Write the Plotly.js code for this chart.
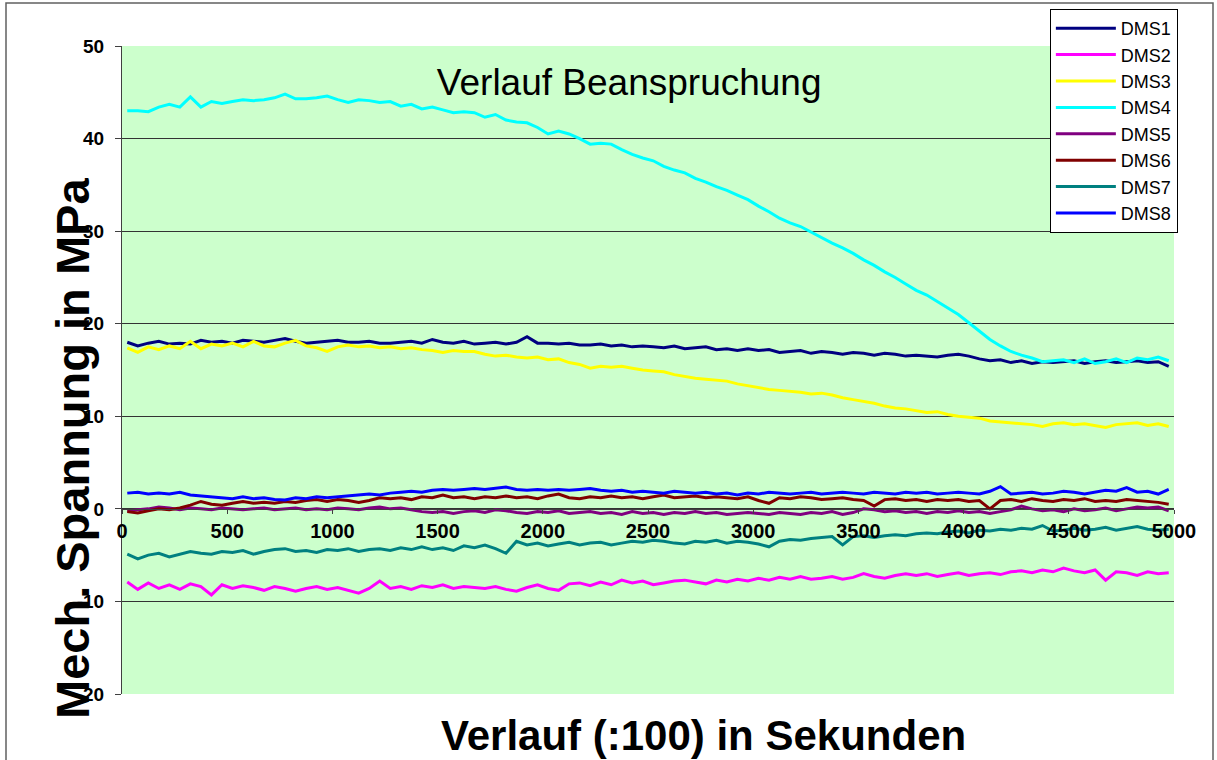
<!DOCTYPE html>
<html>
<head>
<meta charset="utf-8">
<script src="https://cdn.plot.ly/plotly-3.0.1.min.js"></script>
<style>
html,body{margin:0;padding:0;background:#fff;}
#chart{width:1217px;height:760px;}
</style>
</head>
<body>
<div id="chart"></div>
<script>
const zeit = [25,75,125,175,225,275,325,375,425,475,525,575,625,675,725,775,825,875,925,975,
1025,1075,1125,1175,1225,1275,1325,1375,1425,1475,1525,1575,1625,1675,1725,1775,1825,1875,1925,1975,
2025,2075,2125,2175,2225,2275,2325,2375,2425,2475,2525,2575,2625,2675,2725,2775,2825,2875,2925,2975,
3025,3075,3125,3175,3225,3275,3325,3375,3425,3475,3525,3575,3625,3675,3725,3775,3825,3875,3925,3975,
4025,4075,4125,4175,4225,4275,4325,4375,4425,4475,4525,4575,4625,4675,4725,4775,4825,4875,4925,4975];

const dms1 = [18.0,17.6,17.9,18.1,17.8,17.9,17.8,18.2,18.0,18.1,17.9,18.2,18.1,18.0,18.2,18.4,18.1,17.9,18.0,18.1,
18.2,18.0,18.0,18.1,17.9,17.9,18.0,18.1,17.9,18.3,18.0,17.9,18.1,17.8,17.9,18.0,17.8,18.0,18.6,17.9,
17.9,17.8,17.9,17.7,17.7,17.8,17.6,17.7,17.5,17.6,17.5,17.4,17.6,17.3,17.4,17.5,17.2,17.3,17.1,17.3,
17.1,17.2,16.9,17.0,17.1,16.8,17.0,16.9,16.7,16.9,16.8,16.6,16.8,16.7,16.5,16.6,16.5,16.4,16.6,16.7,
16.5,16.2,16.0,16.1,15.8,16.0,15.7,15.9,15.8,15.9,16.0,15.7,15.9,16.0,15.8,15.9,16.0,15.8,15.9,15.4];

const dms2 = [-7.9,-8.7,-8.0,-8.6,-8.2,-8.7,-8.1,-8.4,-9.3,-8.2,-8.6,-8.3,-8.5,-8.8,-8.4,-8.6,-8.9,-8.6,-8.4,-8.7,
-8.5,-8.8,-9.1,-8.6,-7.8,-8.6,-8.4,-8.7,-8.3,-8.5,-8.2,-8.6,-8.4,-8.5,-8.6,-8.4,-8.7,-8.9,-8.5,-8.2,
-8.6,-8.8,-8.1,-8.0,-8.3,-7.9,-8.2,-7.7,-8.0,-7.8,-8.2,-8.0,-7.8,-7.7,-7.9,-8.1,-7.7,-7.9,-7.6,-7.8,
-7.5,-7.7,-7.4,-7.6,-7.3,-7.6,-7.5,-7.3,-7.6,-7.4,-7.0,-7.3,-7.5,-7.2,-7.0,-7.2,-7.0,-7.3,-7.1,-6.9,
-7.2,-7.0,-6.9,-7.1,-6.8,-6.7,-6.9,-6.6,-6.8,-6.4,-6.7,-6.9,-6.6,-7.7,-6.8,-6.9,-7.2,-6.8,-7.0,-6.9];

const dms3 = [17.4,16.9,17.5,17.2,17.6,17.3,18.1,17.3,17.8,17.6,17.9,17.5,18.1,17.6,17.5,17.9,18.2,17.6,17.4,17.0,
17.5,17.7,17.5,17.6,17.4,17.5,17.3,17.4,17.2,17.1,16.9,17.1,17.0,17.0,16.7,16.5,16.6,16.4,16.3,16.4,
16.1,16.2,15.8,15.6,15.2,15.4,15.3,15.4,15.2,15.0,14.9,14.8,14.5,14.3,14.1,14.0,13.9,13.8,13.5,13.3,
13.1,12.9,12.8,12.7,12.6,12.4,12.5,12.3,12.0,11.8,11.6,11.4,11.1,10.9,10.8,10.6,10.4,10.5,10.2,10.0,
9.9,9.8,9.5,9.4,9.3,9.2,9.1,8.9,9.2,9.3,9.1,9.2,9.0,8.8,9.1,9.2,9.3,9.0,9.2,8.9];

const dms4 = [43.0,43.0,42.9,43.4,43.7,43.4,44.5,43.4,44.0,43.8,44.0,44.2,44.1,44.2,44.4,44.8,44.3,44.3,44.4,44.6,
44.2,43.9,44.2,44.1,43.9,44.0,43.5,43.7,43.2,43.4,43.1,42.8,42.9,42.8,42.3,42.6,42.0,41.8,41.7,41.2,
40.5,40.8,40.5,40.0,39.4,39.5,39.4,38.8,38.3,37.9,37.6,37.0,36.6,36.3,35.7,35.3,34.8,34.4,33.9,33.4,
32.7,32.1,31.4,30.9,30.5,29.9,29.3,28.7,28.2,27.6,26.9,26.3,25.6,25.0,24.3,23.6,23.1,22.4,21.7,21.0,
20.1,19.2,18.3,17.6,17.0,16.6,16.3,15.9,16.0,16.1,15.8,16.2,15.7,15.9,16.2,15.8,16.3,16.1,16.4,16.0];

const dms5 = [-0.2,-0.1,0.0,0.2,0.1,-0.1,0.1,0.0,-0.1,0.1,0.0,-0.1,0.0,0.1,-0.1,0.0,0.1,-0.1,0.0,-0.1,
0.1,0.0,-0.1,0.1,0.2,0.0,0.1,-0.1,-0.3,-0.4,-0.3,-0.5,-0.3,-0.2,-0.4,-0.1,-0.2,-0.4,-0.5,-0.3,
-0.4,-0.2,-0.5,-0.4,-0.3,-0.5,-0.4,-0.6,-0.3,-0.5,-0.4,-0.6,-0.4,-0.5,-0.3,-0.5,-0.4,-0.6,-0.5,-0.4,
-0.5,-0.6,-0.4,-0.5,-0.6,-0.4,-0.5,-0.3,-0.6,-0.4,0.0,-0.1,-0.3,-0.2,-0.4,-0.3,-0.5,-0.3,-0.4,-0.2,
-0.4,-0.3,-0.5,-0.3,-0.1,0.3,0.0,-0.2,-0.1,-0.3,0.0,-0.2,-0.1,0.1,-0.2,0.0,0.2,0.1,0.2,-0.2];

const dms6 = [-0.3,-0.45,-0.2,0.0,-0.1,0.1,0.4,0.8,0.5,0.4,0.6,0.8,0.6,0.7,0.6,0.8,0.7,0.9,1.0,0.8,
1.0,0.9,0.7,0.9,1.2,1.1,1.2,1.0,1.3,1.2,1.5,1.2,1.3,1.1,1.3,1.2,1.4,1.2,1.3,1.1,
1.4,1.6,1.2,1.1,1.3,1.2,1.4,1.2,1.3,1.1,1.3,1.5,1.2,1.3,1.4,1.2,1.3,1.2,1.1,1.3,
0.9,0.6,1.2,1.1,1.3,1.2,1.0,1.1,1.2,1.0,0.9,0.3,1.0,1.1,0.9,1.0,0.8,1.0,0.9,1.0,
0.8,0.9,0.0,0.9,1.0,0.8,1.1,0.9,0.8,1.0,0.9,1.1,0.8,0.9,0.8,1.0,0.9,0.8,0.7,0.5];

const dms7 = [-4.9,-5.4,-5.0,-4.8,-5.2,-4.9,-4.6,-4.8,-4.9,-4.6,-4.7,-4.5,-4.9,-4.6,-4.4,-4.3,-4.6,-4.5,-4.7,-4.4,
-4.5,-4.3,-4.6,-4.4,-4.3,-4.5,-4.2,-4.4,-4.1,-4.4,-4.2,-4.5,-4.0,-4.2,-3.9,-4.3,-4.8,-3.5,-3.9,-3.7,
-4.0,-3.8,-3.6,-3.9,-3.7,-3.6,-3.9,-3.7,-3.5,-3.6,-3.4,-3.5,-3.7,-3.8,-3.5,-3.6,-3.4,-3.7,-3.5,-3.6,
-3.8,-4.1,-3.5,-3.3,-3.4,-3.2,-3.1,-3.0,-3.9,-3.0,-2.9,-3.1,-2.9,-2.8,-2.9,-2.7,-2.6,-2.7,-2.5,-2.4,
-2.6,-2.3,-2.4,-2.2,-2.3,-2.1,-2.2,-1.8,-2.4,-2.3,-2.1,-2.3,-2.2,-2.0,-2.3,-2.1,-1.9,-2.2,-2.3,-2.2];

const dms8 = [1.7,1.8,1.6,1.7,1.6,1.8,1.5,1.4,1.3,1.2,1.1,1.3,1.1,1.2,1.0,0.95,1.2,1.1,1.3,1.2,
1.3,1.4,1.5,1.6,1.5,1.7,1.8,1.9,1.8,2.0,2.1,2.0,2.1,2.2,2.1,2.2,2.35,2.1,2.0,2.1,
2.0,2.1,2.0,2.1,2.2,2.0,1.9,2.0,1.8,1.9,1.8,1.7,1.9,1.8,1.7,1.8,1.6,1.7,1.5,1.7,
1.6,1.8,1.7,1.6,1.7,1.8,1.6,1.7,1.8,1.7,1.6,1.8,1.7,1.6,1.8,1.7,1.8,1.6,1.7,1.8,
1.7,1.6,1.9,2.4,1.6,1.7,1.8,1.6,1.7,1.9,1.8,1.6,1.8,2.0,1.9,2.3,1.8,1.9,1.6,2.1];

const seriesNames = ['DMS1','DMS2','DMS3','DMS4','DMS5','DMS6','DMS7','DMS8'];
const seriesValues = [dms1,dms2,dms3,dms4,dms5,dms6,dms7,dms8];
const seriesColors = ['#000080','#FF00FF','#FFFF00','#00FFFF','#800080','#800000','#008080','#0000FF'];
const xTicks = [0,500,1000,1500,2000,2500,3000,3500,4000,4500,5000];
const yTicks = [-20,-10,0,10,20,30,40,50];

const FONT = '"Liberation Sans", Arial, Helvetica, sans-serif';

const traces = seriesNames.map((n,i)=>({
  type:'scatter', mode:'lines', name:n, x:zeit, y:seriesValues[i],
  line:{color:seriesColors[i], width:3}
}));

const layout = {
  width:1217, height:760,
  margin:{l:122, r:43, t:46, b:66, pad:0, autoexpand:false},
  paper_bgcolor:'#FFFFFF',
  plot_bgcolor:'#CCFFCC',
  font:{family:FONT, color:'#000'},
  showlegend:true,
  title:{text:'Verlauf Beanspruchung', x:0.517, xanchor:'center', y:0.892, yanchor:'middle', yref:'container',
         font:{family:FONT, size:37, color:'#000'}},
  xaxis:{
    range:[0,5000], tickvals:xTicks, ticktext:xTicks.map(String),
    showgrid:false, zeroline:false,
    anchor:'free', position:20/70,
    showline:true, linecolor:'#404040', linewidth:1,
    ticks:'outside', ticklen:4, tickcolor:'#404040',
    ticklabelstandoff:0,
    tickfont:{family:FONT, size:20, color:'#000', weight:'bold'}
  },
  yaxis:{
    range:[-20,50], tickvals:yTicks, ticktext:yTicks.map(String),
    showgrid:true, gridcolor:'#333333', gridwidth:1,
    zeroline:false,
    showline:true, linecolor:'#404040', linewidth:1,
    ticks:'outside', ticklen:6, tickcolor:'#404040',
    ticklabelstandoff:7,
    tickfont:{family:FONT, size:19, color:'#000', weight:'bold'}
  },
  legend:{
    x:0.882, xanchor:'left', y:(694-9)/648, yanchor:'top',
    bgcolor:'#FFFFFF', bordercolor:'#000000', borderwidth:1,
    font:{family:FONT, size:18, color:'#000'},
    tracegroupgap:0, itemwidth:60
  },
  annotations:[
    {text:'Verlauf (:100) in Sekunden', xref:'paper', yref:'paper', x:(703-122)/1052, y:(694-735)/648,
     xanchor:'center', yanchor:'middle', showarrow:false,
     font:{family:FONT, size:42, color:'#000', weight:'bold'}},
    {text:'Mech. Spannung in MPa', xref:'paper', yref:'paper', x:(72-122)/1052, y:(694-449)/648,
     xanchor:'center', yanchor:'middle', textangle:-90, showarrow:false,
     font:{family:FONT, size:47, color:'#000', weight:'bold'}}
  ],
  shapes:[
    {type:'rect', xref:'paper', yref:'paper', x0:(6-122)/1052, x1:(1213-122)/1052, y0:-0.2, y1:(694-3)/648,
     line:{color:'#606060', width:1.5}, fillcolor:'rgba(0,0,0,0)', layer:'below'}
  ]
};

Plotly.newPlot('chart', traces, layout, {displayModeBar:false, staticPlot:true});
</script>
</body>
</html>
